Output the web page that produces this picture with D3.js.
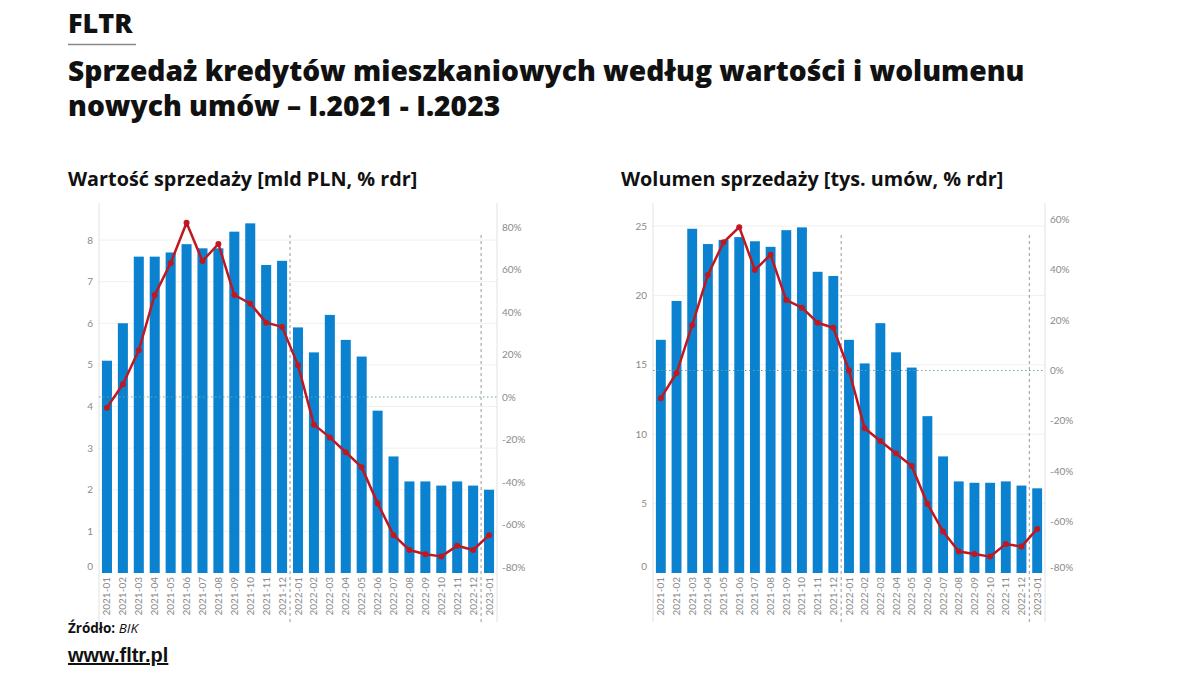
<!DOCTYPE html>
<html>
<head>
<meta charset="utf-8">
<script src="https://cdn.jsdelivr.net/npm/d3@7"></script>
<style>
  body { margin: 0; background: #fff; }
  svg { display: block; }
</style>
</head>
<body>
<div id="plot"></div>
<script>
const w = 1200;
const h = 675;

const months = [
  "2021-01", "2021-02", "2021-03", "2021-04", "2021-05", "2021-06",
  "2021-07", "2021-08", "2021-09", "2021-10", "2021-11", "2021-12",
  "2022-01", "2022-02", "2022-03", "2022-04", "2022-05", "2022-06",
  "2022-07", "2022-08", "2022-09", "2022-10", "2022-11", "2022-12",
  "2023-01"
];

// wartość sprzedaży, mld PLN
const valueBars = [5.1, 6.0, 7.6, 7.6, 7.7, 7.9, 7.8, 7.8, 8.2, 8.4, 7.4, 7.5,
  5.9, 5.3, 6.2, 5.6, 5.2, 3.9, 2.8, 2.2, 2.2, 2.1, 2.2, 2.1, 2.0];
// wartość, % rdr
const valueYoY = [-5, 6, 22, 48, 63, 82, 64, 72, 48, 44, 35, 33,
  15, -13, -19, -26, -33, -50, -65, -72, -74, -75, -70, -72, -65];

// wolumen sprzedaży, tys. umów
const volumeBars = [16.8, 19.6, 24.8, 23.7, 24.0, 24.2, 23.9, 23.5, 24.7, 24.9, 21.7, 21.4,
  16.8, 15.1, 18.0, 15.9, 14.8, 11.3, 8.4, 6.6, 6.5, 6.5, 6.6, 6.3, 6.1];
// wolumen, % rdr
const volumeYoY = [-11, -1, 18, 38, 51, 57, 40, 46, 28, 25, 19, 17,
  0, -23, -28, -33, -38, -53, -64, -72, -73, -74, -69, -70, -63];

const valueTicks = [0, 1, 2, 3, 4, 5, 6, 7, 8];
const valuePctTicks = [-80, -60, -40, -20, 0, 20, 40, 60, 80];
const volumeTicks = [0, 5, 10, 15, 20, 25];
const volumePctTicks = [-80, -60, -40, -20, 0, 20, 40, 60];

const barColor = "#0a82cf";
const lineColor = "#bf1820";
const tickColor = "#8a8a8a";
const axisFont = "Lato, 'DejaVu Sans', sans-serif";
const titleFont = "'Open Sans', 'Noto Sans', sans-serif";

const svg = d3.select("div#plot")
  .append("svg")
  .attr("width", w)
  .attr("height", h);

// nagłówek
svg.append("text")
  .attr("x", 68)
  .attr("y", 33)
  .attr("font-family", titleFont)
  .attr("font-weight", 800)
  .attr("font-size", "27px")
  .attr("fill", "#111")
  .text("FLTR");

svg.append("line")
  .attr("x1", 68).attr("x2", 136)
  .attr("y1", 44.5).attr("y2", 44.5)
  .attr("stroke", "#888")
  .attr("stroke-width", 1.5);

const titleLines = [
  "Sprzedaż kredytów mieszkaniowych według wartości i wolumenu",
  "nowych umów – I.2021 - I.2023"
];
svg.selectAll("text.title")
  .data(titleLines)
  .enter()
  .append("text")
  .attr("class", "title")
  .attr("x", 68)
  .attr("y", (d, i) => 81 + i * 35)
  .attr("font-family", titleFont)
  .attr("font-weight", 800)
  .attr("font-size", "28.2px")
  .attr("fill", "#111")
  .text(d => d);

function drawPanel(cfg) {
  const g = svg.append("g");

  const x = d3.scaleBand()
    .domain(months)
    .range([cfg.left, cfg.right])
    .paddingInner(0.37)
    .paddingOuter(0.185);

  const yL = d3.scaleLinear().domain(cfg.leftDomain).range(cfg.leftRange);
  const yR = d3.scaleLinear().domain(cfg.rightDomain).range(cfg.rightRange);

  // podtytuł
  g.append("text")
    .attr("x", cfg.titleX)
    .attr("y", 186)
    .attr("font-family", titleFont)
    .attr("font-weight", 700)
    .attr("font-size", "19.8px")
    .attr("fill", "#111")
    .text(cfg.title);

  // siatka
  g.selectAll("line.grid")
    .data(cfg.leftTicks.slice(1))
    .enter()
    .append("line")
    .attr("class", "grid")
    .attr("x1", cfg.left).attr("x2", cfg.right)
    .attr("y1", d => yL(d)).attr("y2", d => yL(d))
    .attr("stroke", "#f0f0f0")
    .attr("stroke-width", 1);

  // osie pionowe
  [cfg.left, cfg.right].forEach(xx => {
    g.append("line")
      .attr("x1", xx).attr("x2", xx)
      .attr("y1", 203).attr("y2", 622)
      .attr("stroke", "#e2e2e2")
      .attr("stroke-width", 1);
  });

  // słupki
  g.selectAll("rect.bar")
    .data(cfg.bars)
    .enter()
    .append("rect")
    .attr("class", "bar")
    .attr("x", (d, i) => x(months[i]))
    .attr("y", d => yL(d))
    .attr("width", x.bandwidth())
    .attr("height", d => yL(0) - yL(d))
    .attr("fill", barColor);

  // linia 0%
  g.append("line")
    .attr("x1", cfg.left).attr("x2", cfg.right)
    .attr("y1", yR(0)).attr("y2", yR(0))
    .attr("stroke", "#6f9ea6")
    .attr("stroke-width", 1.2)
    .attr("stroke-dasharray", "1.5,2.5");

  // przerywane linie między latami
  const step = x.step();
  ["2022-01", "2023-01"].forEach(m => {
    const xx = x(m) - (step - x.bandwidth()) / 2;
    g.append("line")
      .attr("x1", xx).attr("x2", xx)
      .attr("y1", 235).attr("y2", 622)
      .attr("stroke", "#999")
      .attr("stroke-width", 1)
      .attr("stroke-dasharray", "3,3");
  });

  // linia % rdr
  const line = d3.line()
    .x((d, i) => x(months[i]) + x.bandwidth() / 2)
    .y(d => yR(d));

  g.append("path")
    .datum(cfg.yoy)
    .attr("d", line)
    .attr("fill", "none")
    .attr("stroke", lineColor)
    .attr("stroke-width", 2.5)
    .attr("stroke-linejoin", "round");

  g.selectAll("circle.pt")
    .data(cfg.yoy)
    .enter()
    .append("circle")
    .attr("class", "pt")
    .attr("cx", (d, i) => x(months[i]) + x.bandwidth() / 2)
    .attr("cy", d => yR(d))
    .attr("r", 3)
    .attr("fill", lineColor);

  // etykiety osi lewej
  g.selectAll("text.ly")
    .data(cfg.leftTicks)
    .enter()
    .append("text")
    .attr("class", "ly")
    .attr("x", cfg.left - 6)
    .attr("y", d => yL(d) + (d === 0 ? -3 : 3.5))
    .attr("text-anchor", "end")
    .attr("font-family", axisFont)
    .attr("font-size", "10px")
    .attr("fill", tickColor)
    .text(d => d);

  // etykiety osi prawej
  g.selectAll("text.ry")
    .data(cfg.rightTicks)
    .enter()
    .append("text")
    .attr("class", "ry")
    .attr("x", cfg.right + 5)
    .attr("y", d => Math.min(yR(d), 567) + 3.5)
    .attr("text-anchor", "start")
    .attr("font-family", axisFont)
    .attr("font-size", "10px")
    .attr("fill", tickColor)
    .text(d => d + "%");

  // etykiety miesięcy
  g.selectAll("text.mx")
    .data(months)
    .enter()
    .append("text")
    .attr("class", "mx")
    .attr("transform", d => `translate(${x(d) + x.bandwidth() / 2 + 3.5}, 577) rotate(-90)`)
    .attr("text-anchor", "end")
    .attr("font-family", axisFont)
    .attr("font-size", "10px")
    .attr("fill", tickColor)
    .text(d => d);
}

drawPanel({
  title: "Wartość sprzedaży [mld PLN, % rdr]",
  titleX: 68,
  left: 99,
  right: 497,
  bars: valueBars,
  yoy: valueYoY,
  leftDomain: [0, 8],
  leftRange: [573, 240],
  rightDomain: [-80, 80],
  rightRange: [567, 227],
  leftTicks: valueTicks,
  rightTicks: valuePctTicks
});

drawPanel({
  title: "Wolumen sprzedaży [tys. umów, % rdr]",
  titleX: 621,
  left: 653,
  right: 1045,
  bars: volumeBars,
  yoy: volumeYoY,
  leftDomain: [0, 25],
  leftRange: [573, 226],
  rightDomain: [-80, 60],
  rightRange: [571.7, 219.6],
  leftTicks: volumeTicks,
  rightTicks: volumePctTicks
});

// stopka
const src = svg.append("text")
  .attr("x", 68)
  .attr("y", 633)
  .attr("font-family", titleFont)
  .attr("font-size", "13.5px")
  .attr("fill", "#111");
src.append("tspan").attr("font-weight", 700).text("Źródło: ");
src.append("tspan").attr("font-style", "italic").text("BIK");

svg.append("text")
  .attr("x", 68)
  .attr("y", 662)
  .attr("font-family", "'Liberation Sans', Arial, sans-serif")
  .attr("font-weight", 700)
  .attr("font-size", "20px")
  .attr("text-decoration", "underline")
  .attr("fill", "#111")
  .text("www.fltr.pl");
</script>
</body>
</html>
